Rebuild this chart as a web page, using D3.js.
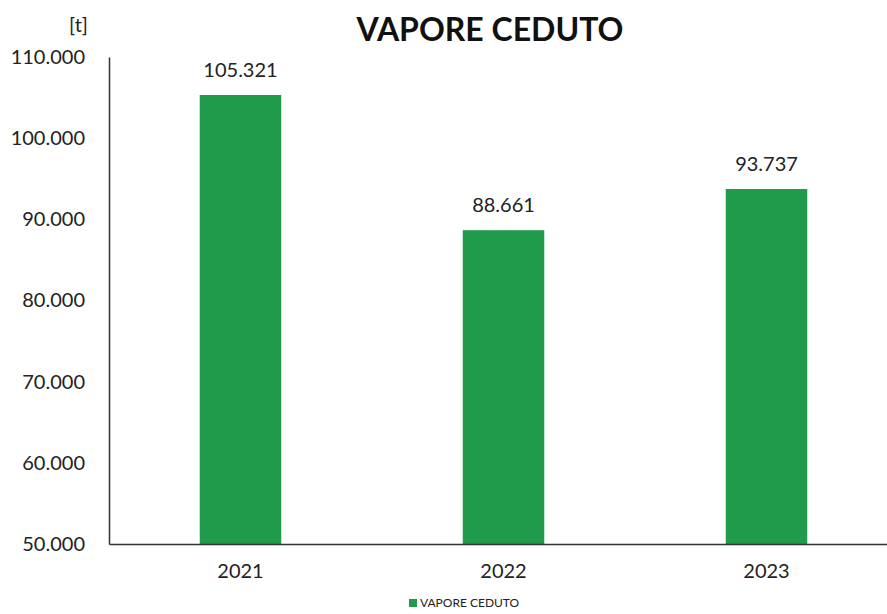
<!DOCTYPE html>
<html><head><meta charset="utf-8">
<script src="https://cdn.jsdelivr.net/npm/d3@7"></script>
<style>body{margin:0;background:#fff}svg{display:block}text{font-family:Lato,"Open Sans",sans-serif}</style>
</head><body>
<svg id="c" width="887" height="614"></svg>
<script>
const categories = ["2021", "2022", "2023"];
const values = [105321, 88661, 93737];
const valueLabels = ["105.321", "88.661", "93.737"];
const yTicks = [50000, 60000, 70000, 80000, 90000, 100000, 110000];
const yTickLabels = ["50.000", "60.000", "70.000", "80.000", "90.000", "100.000", "110.000"];
const title = "VAPORE CEDUTO";
const unit = "[t]";
const seriesName = "VAPORE CEDUTO";

(function () {
const svg = d3.select("#c");
const mLeft = 109, mRight = 898, mTop = 57, mBottom = 544;
const x = d3.scaleBand().domain(categories).range([mLeft, mRight]).paddingInner(0.69).paddingOuter(0.345);
const y = d3.scaleLinear().domain([50000, 110000]).range([mBottom, mTop]);
const green = "#1f9b4b";
const ff = "Lato,'Open Sans',sans-serif";

svg.selectAll("rect.bar").data(values).enter().append("rect")
  .attr("class", "bar")
  .attr("x", (d, i) => x(categories[i]))
  .attr("width", x.bandwidth())
  .attr("y", d => y(d))
  .attr("height", d => y(50000) - y(d))
  .attr("fill", green);

svg.selectAll("text.val").data(values).enter().append("text")
  .attr("class", "val")
  .attr("x", (d, i) => x(categories[i]) + x.bandwidth() / 2)
  .attr("y", d => y(d) - 18)
  .attr("text-anchor", "middle")
  .attr("font-size", 20).attr("fill", "#222")
  .text((d, i) => valueLabels[i]);

const yAxis = d3.axisLeft(y).tickValues(yTicks).tickSize(0).tickPadding(24)
  .tickFormat((d, i) => yTickLabels[i]);
const gy = svg.append("g").attr("transform", `translate(${mLeft},0)`).call(yAxis);
gy.select(".domain").attr("stroke", "#333").attr("stroke-width", 1.5);
gy.selectAll("text").attr("font-size", 20).attr("fill", "#222").attr("font-family", ff);

const xAxis = d3.axisBottom(x).tickSize(0).tickPadding(20);
const gx = svg.append("g").attr("transform", `translate(0,${mBottom})`).call(xAxis);
gx.select(".domain").attr("stroke", "#333").attr("stroke-width", 1.5);
gx.selectAll("text").attr("font-size", 20).attr("fill", "#222").attr("font-family", ff);

svg.append("text").attr("x", 88).attr("y", 32).attr("text-anchor", "end")
  .attr("font-size", 20).attr("fill", "#222").text(unit);

svg.append("text").attr("x", 490).attr("y", 41).attr("text-anchor", "middle")
  .attr("font-size", 32).attr("font-weight", "bold").attr("fill", "#111").text(title);

svg.append("rect").attr("x", 409).attr("y", 599).attr("width", 8).attr("height", 8).attr("fill", green);
svg.append("text").attr("x", 420).attr("y", 607).attr("font-size", 12).attr("fill", "#222").text(seriesName);
})();
</script>
</body></html>
